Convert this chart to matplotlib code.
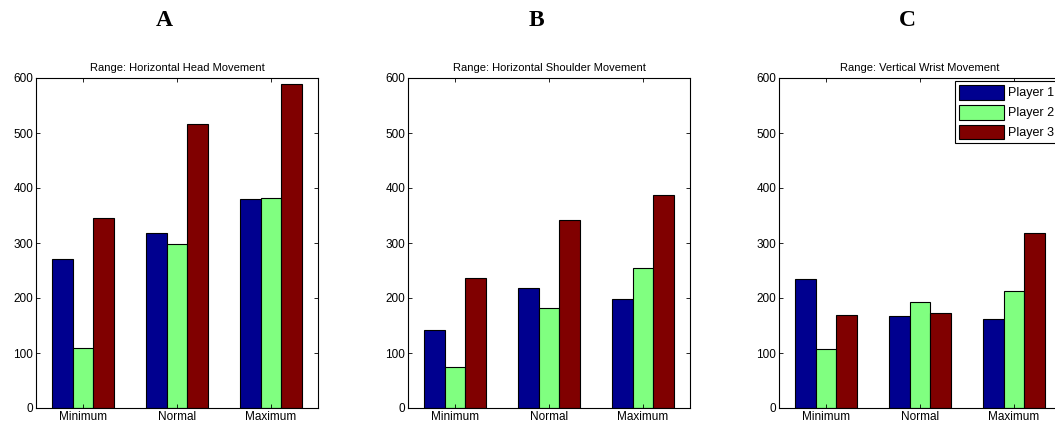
import numpy as np
import matplotlib.pyplot as plt
from matplotlib.ticker import MultipleLocator

categories = ['Minimum', 'Normal', 'Maximum']
players = ['Player 1', 'Player 2', 'Player 3']
panel_letters = ['A', 'B', 'C']
panel_titles = ['Range: Horizontal Head Movement',
                'Range: Horizontal Shoulder Movement',
                'Range: Vertical Wrist Movement']

# rows = categories, columns = players
head = [[271, 109, 345],
        [318, 299, 516],
        [380, 382, 589]]
shoulder = [[142, 74, 236],
            [219, 182, 341],
            [199, 254, 388]]
wrist = [[234, 107, 170],
         [167, 192, 173],
         [162, 213, 318]]

colors = ['#00008F', '#80FF80', '#800000']

plt.rcParams['font.family'] = ['Liberation Sans', 'DejaVu Sans']

fig = plt.figure(figsize=(10.55, 4.26), dpi=100)

lefts = [36, 408, 779]
x = np.arange(1, len(categories) + 1)
bw = 2.0 / 9

for k, (data, title, letter) in enumerate(zip([head, shoulder, wrist], panel_titles, panel_letters)):
    ax = fig.add_axes([lefts[k] / 1055, 18 / 426, 282 / 1055, 330 / 426])
    data = np.array(data)
    for j in range(len(players)):
        ax.bar(x + (j - 1) * bw, data[:, j], width=bw, color=colors[j],
               edgecolor='black', linewidth=0.8, label=players[j])
    ax.set_xlim(0.5, 3.5)
    ax.set_ylim(0, 600)
    ax.yaxis.set_major_locator(MultipleLocator(100))
    ax.set_xticks(x)
    ax.set_xticklabels(categories)
    ax.tick_params(direction='in', top=True, right=True, labelsize=8.5, length=3,
                   width=0.6, pad=2)
    for s in ax.spines.values():
        s.set_linewidth(0.8)
    ax.set_title(title, fontsize=8, pad=5)
    fig.text((lefts[k] + 141) / 1055 - 0.012, 0.952, letter, fontsize=17,
             fontweight='bold', family='Liberation Serif', ha='center', va='center')
    if k == 2:
        leg = ax.legend(loc='upper right', fontsize=9, frameon=True, fancybox=False,
                        edgecolor='black', framealpha=1, borderaxespad=0.25,
                        handlelength=3.6, handleheight=1.45, labelspacing=0.4,
                        borderpad=0.3, handletextpad=0.3)
        leg.get_frame().set_linewidth(0.8)

fig.savefig('out.png', dpi=100)
